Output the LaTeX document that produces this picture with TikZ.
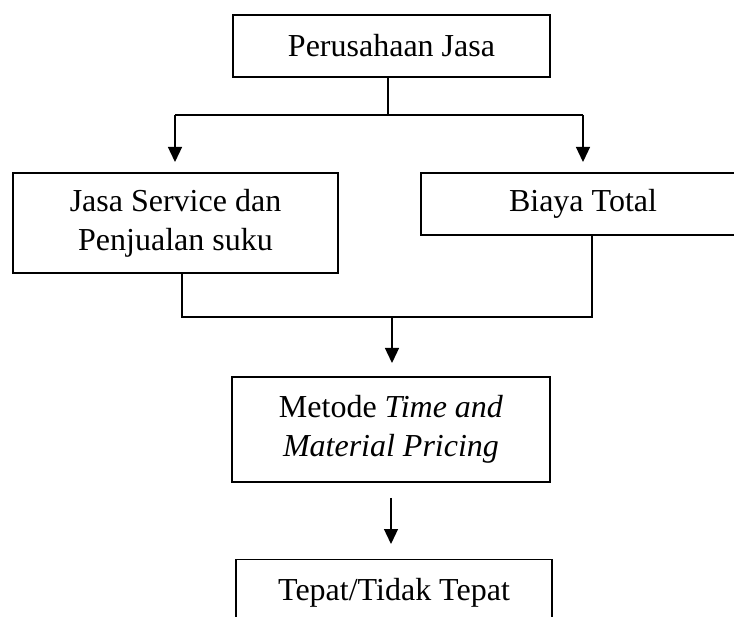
\documentclass[tikz,border=0pt]{standalone}
\usepackage{fontspec}
\setmainfont{Liberation Serif}
\usetikzlibrary{arrows.meta}
\begin{document}
\begin{tikzpicture}[x=1pt,y=-1pt,
  box/.style={draw,line width=1.3pt,rectangle,inner sep=0pt,align=center,
    font=\fontsize{32}{39}\selectfont},
  conn/.style={line width=1.3pt},
  arr/.style={line width=1.3pt,-{Triangle[width=14pt,length=15pt]}}]
\useasboundingbox (0,0) rectangle (734,617);
\node[box,minimum width=317pt,minimum height=62pt] (top) at (391.5,46) {Perusahaan Jasa};
\node[box,minimum width=325pt,minimum height=100pt] (jasa) at (175.5,223) {Jasa Service dan\\Penjualan suku};
\node[box,minimum width=324pt,minimum height=62pt] (biaya) at (583,204) {Biaya Total};
\node[box,minimum width=318pt,minimum height=105pt] (metode) at (391,429.5) {Metode \textit{Time and}\\\textit{Material Pricing}};
\node[box,anchor=north,minimum width=316pt,inner ysep=19pt,text height=22pt,text depth=30pt] (tepat) at (394,559) {Tepat/Tidak Tepat};
% top split
\coordinate (sp) at (388,115);
\coordinate (lt) at (175,115);
\coordinate (rt) at (583,115);
\coordinate (la) at (175,162);
\coordinate (ra) at (583,162);
\draw[conn] (top.south -| sp) -- (sp);
\draw[conn] (lt) -- (rt);
\draw[arr] (lt) -- (la);
\draw[arr] (rt) -- (ra);
% merge
\coordinate (ml) at (182,317);
\coordinate (mr) at (592,317);
\coordinate (mc) at (392,317);
\coordinate (mt) at (392,363);
\draw[conn] (jasa.south -| ml) -- (ml) -- (mr) -- (biaya.south -| mr);
\draw[arr] (mc) -- (mt);
% bottom arrow
\coordinate (b1) at (391,498);
\coordinate (b2) at (391,544);
\draw[arr] (b1) -- (b2);
\end{tikzpicture}
\end{document}
